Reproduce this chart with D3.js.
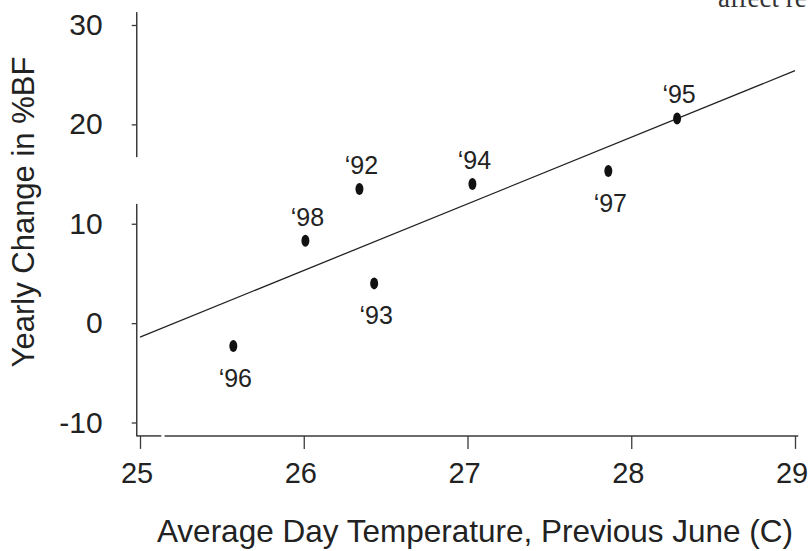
<!DOCTYPE html>
<html>
<head>
<meta charset="utf-8">
<script src="https://cdn.jsdelivr.net/npm/d3@7"></script>
<style>
  body { margin: 0; background: #fff; }
  svg { display: block; }
</style>
</head>
<body>
<svg width="809" height="551"></svg>
<script>
const width = 809;
const height = 551;

// Data
const years = ["‘92", "‘93", "‘94", "‘95", "‘96", "‘97", "‘98"];
const temps = [26.34, 26.43, 27.03, 28.28, 25.57, 27.86, 26.01];
const changes = [13.5, 4.0, 14.0, 20.6, -2.3, 15.3, 8.3];
const labelSide = ["above", "below", "above", "above", "below", "below", "above"];

const fitX = [25.0, 29.0];
const fitY = [-1.4, 25.4];

const xTicks = [25, 26, 27, 28, 29];
const yTicks = [-10, 0, 10, 20, 30];

// broken axis segments (data units)
const ySegments = [[-11.4, 12.0], [16.7, 31.3]];
const xSegments = [[24.98, 25.13], [25.15, 29.02]];

const svg = d3.select("svg");
const font = "Liberation Sans, Arial, sans-serif";

const x = d3.scaleLinear().domain([25, 29]).range([140, 795]);
const y = d3.scaleLinear().domain([-10, 30]).range([422.5, 25]);

const axisColor = "#3a3a3a";
const tickFmt = d => String(d);   // plain hyphen, no decimals

// Y axis
const yAxis = svg.append("g")
    .attr("transform", `translate(${x(24.98)},0)`)
    .call(d3.axisLeft(y).tickValues(yTicks).tickFormat(tickFmt).tickSize(5).tickPadding(29));
yAxis.select(".domain").remove();
yAxis.selectAll(".tick line").attr("stroke", axisColor).attr("stroke-width", 1.3);
yAxis.selectAll(".tick text")
    .attr("font-family", font)
    .attr("font-size", "30px")
    .attr("fill", "#222");

ySegments.forEach(s => {
  svg.append("line")
      .attr("x1", x(24.98)).attr("x2", x(24.98))
      .attr("y1", y(s[0])).attr("y2", y(s[1]))
      .attr("stroke", axisColor).attr("stroke-width", 1.5);
});

// X axis
const xAxisY = y(-11.35);
const xAxis = svg.append("g")
    .attr("transform", `translate(0,${xAxisY})`)
    .call(d3.axisBottom(x).tickValues(xTicks).tickFormat(tickFmt).tickSize(13).tickPadding(14));
xAxis.select(".domain").remove();
xAxis.selectAll(".tick line").attr("stroke", axisColor).attr("stroke-width", 1.3);
xAxis.selectAll(".tick text")
    .attr("dx", -3.5)
    .attr("font-family", font)
    .attr("font-size", "29px")
    .attr("fill", "#222");

xSegments.forEach(s => {
  svg.append("line")
      .attr("x1", x(s[0])).attr("x2", x(s[1]))
      .attr("y1", xAxisY).attr("y2", xAxisY)
      .attr("stroke", axisColor).attr("stroke-width", 1.5);
});

// Axis titles
svg.append("text")
    .attr("x", 475)
    .attr("y", 542)
    .attr("text-anchor", "middle")
    .attr("font-family", font)
    .attr("font-size", "31.5px")
    .attr("fill", "#222")
    .text("Average Day Temperature, Previous June (C)");

svg.append("text")
    .attr("transform", "translate(34,212) rotate(-90)")
    .attr("text-anchor", "middle")
    .attr("font-family", font)
    .attr("font-size", "31px")
    .attr("fill", "#222")
    .text("Yearly Change in %BF");

// Regression line
const line = d3.line().x(d => x(d[0])).y(d => y(d[1]));
svg.append("path")
    .attr("d", line(d3.zip(fitX, fitY)))
    .attr("fill", "none")
    .attr("stroke", "#222")
    .attr("stroke-width", 1.3);

// Points
const pts = d3.range(years.length).map(i => ({
  year: years[i], t: temps[i], c: changes[i], side: labelSide[i]
}));

svg.selectAll("ellipse.pt")
    .data(pts)
    .enter().append("ellipse")
    .attr("class", "pt")
    .attr("cx", d => x(d.t))
    .attr("cy", d => y(d.c))
    .attr("rx", 4)
    .attr("ry", 6)
    .attr("fill", "#111");

svg.selectAll("text.lbl")
    .data(pts)
    .enter().append("text")
    .attr("class", "lbl")
    .attr("x", d => x(d.t) + 2)
    .attr("y", d => d.side === "above" ? y(d.c) - 15 : y(d.c) + 41)
    .attr("text-anchor", "middle")
    .attr("font-family", font)
    .attr("font-size", "25px")
    .attr("fill", "#222")
    .text(d => d.year);

// stray text from the page above the figure
svg.append("text")
    .attr("x", 718)
    .attr("y", 7)
    .attr("font-family", "Liberation Serif, Times New Roman, serif")
    .attr("font-size", "27px")
    .attr("fill", "#333")
    .text("affect re");
</script>
</body>
</html>
